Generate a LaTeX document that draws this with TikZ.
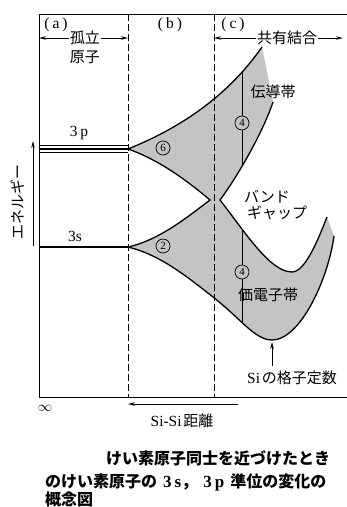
\documentclass[tikz,border=0pt]{standalone}
\usepackage{fontspec}
\setmainfont{Liberation Serif}
\newfontfamily\jp{Noto Sans CJK JP}
\usetikzlibrary{arrows.meta}
\definecolor{bandgray}{gray}{0.77}
\begin{document}
\begin{tikzpicture}[x=1pt,y=-1pt,
  frame/.style={line width=0.9pt},
  bandline/.style={line width=1.3pt},
  divider/.style={dash pattern=on 7pt off 3pt, line width=0.8pt},
  lbl/.style={font=\jp\fontsize{15}{15}\selectfont, inner sep=1pt},
  latin/.style={font=\fontsize{15.5}{15.5}\selectfont, inner sep=1pt},
  captxt/.style={font=\jp\bfseries\fontsize{16}{16}\selectfont, inner sep=0pt, anchor=west},
  circnum/.style={circle, draw, line width=0.7pt, inner sep=0pt, minimum size=14pt, fill=bandgray, font=\fontsize{11}{11}\selectfont},
  arr/.style={-{Stealth[length=7pt,width=3.5pt]}, line width=0.8pt}]
\useasboundingbox (0,0) rectangle (347,507);

% frame
\coordinate (TL) at (39,14);
\coordinate (TR) at (347,14);
\coordinate (BL) at (39,397);
\coordinate (BR) at (347,397);

% band geometry
\coordinate (P3p) at (128,149);
\coordinate (T1) at (262,47);
\coordinate (C1) at (273,102);
\coordinate (Xr) at (220,200);
\coordinate (Vmin) at (292,272);
\coordinate (T2) at (327,217);
\coordinate (C2) at (334,236);
\coordinate (Lmin) at (272,340);
\coordinate (Mid) at (213,297);
\coordinate (P3s) at (128,247);
\coordinate (Xl) at (210,200);

\fill[bandgray] (P3p) .. controls (175,130) and (225,100) .. (T1) -- (C1)
  .. controls (262,135) and (235,180) .. (Xr)
  .. controls (245,232) and (270,272) .. (Vmin)
  .. controls (305,272) and (318,240) .. (T2) -- (C2)
  .. controls (328,280) and (300,340) .. (Lmin)
  .. controls (255,340) and (240,318) .. (Mid)
  .. controls (185,275) and (160,255) .. (P3s)
  .. controls (160,240) and (190,215) .. (Xl)
  .. controls (190,183) and (160,160) .. (P3p) -- cycle;

\draw[frame] (TR) -- (TL) -- (BL) -- (BR);

% dividers
\coordinate (d1t) at (128,14);
\coordinate (d1b) at (128,397);
\coordinate (d2t) at (214,14);
\coordinate (d2b) at (214,397);
\draw[divider] (d1t) -- (d1b);
\draw[divider] (d2t) -- (d2b);

% band outlines
\draw[bandline] (P3p) .. controls (175,130) and (225,100) .. (T1);
\draw[bandline] (C1) .. controls (262,135) and (235,180) .. (Xr)
  .. controls (245,232) and (270,272) .. (Vmin)
  .. controls (305,272) and (318,240) .. (T2);
\draw[bandline] (C2) .. controls (328,280) and (300,340) .. (Lmin)
  .. controls (255,340) and (240,318) .. (Mid)
  .. controls (185,275) and (160,255) .. (P3s);
\draw[bandline] (P3s) .. controls (160,240) and (190,215) .. (Xl)
  .. controls (190,183) and (160,160) .. (P3p);

% region labels
\node[latin] (la) at (56,25) {(\hspace{3pt}a\hspace{3pt})};
\node[latin] (lb) at (170,25) {(\hspace{3pt}b\hspace{3pt})};
\node[latin] (lc) at (233,25) {(\hspace{3pt}c\hspace{3pt})};

\node[lbl] (iso) at (85,38) {孤立};
\node[lbl] (iso2) at (85,57) {原子};
\coordinate (aL) at (39,38);
\coordinate (aR) at (128,38);
\draw[arr] (iso) -- (aL);
\draw[arr] (iso) -- (aR);

\node[lbl] (cov) at (287,38) {共有結合};
\coordinate (cL) at (214,38);
\coordinate (cR) at (343,38);
\draw[arr] (cov) -- (cL);
\draw[arr] (cov) -- (cR);

% atomic levels
\coordinate (p1L) at (39,145.5); \coordinate (p1R) at (128,145.5);
\coordinate (p2L) at (39,149); \coordinate (p2R) at (128,149);
\coordinate (p3L) at (39,152.5); \coordinate (p3R) at (128,152.5);
\draw[line width=0.9pt] (p1L) -- (p1R);
\draw[line width=1.1pt] (p2L) -- (p2R);
\draw[line width=0.9pt] (p3L) -- (p3R);
\node[latin] (l3p) at (79,133) {3\hspace{3pt}p};

\coordinate (sL) at (39,247);
\coordinate (sR) at (128,247);
\draw[line width=1.1pt] (sL) -- (sR);
\node[latin] (l3s) at (75,236) {3s};

% energy axis
\coordinate (eb) at (33,246);
\coordinate (et) at (33,141);
\draw[arr] (eb) -- (et);
\node[lbl, rotate=90] (en) at (18,202) {エネルギー};

% lattice constant lines and degeneracy marks
\coordinate (va) at (242,72);
\coordinate (vb) at (242,166);
\coordinate (vc) at (242,230);
\coordinate (vd) at (242,322);
\node[circnum] (c4a) at (242,123) {4};
\node[circnum] (c4b) at (242,272) {4};
\draw[line width=0.7pt] (va) -- (c4a);
\draw[line width=0.7pt] (c4a) -- (vb);
\draw[line width=0.7pt] (vc) -- (c4b);
\draw[line width=0.7pt] (c4b) -- (vd);
\node[circnum] (c6) at (163,148) {6};
\node[circnum] (c2) at (163,246) {2};

% band labels
\node[lbl] (cb) at (273,92) {伝導帯};
\node[lbl, anchor=west] (bg1) at (243,197) {バンド};
\node[lbl, anchor=west] (bg2) at (246,213) {ギャップ};
\node[lbl] (vb2) at (268,295) {価電子帯};

% Si lattice constant
\node[inner sep=1pt] (si) at (292,378) {{\fontsize{15.5}{15.5}\selectfont Si}\,{\jp\fontsize{15}{15}\selectfont の格子定数}};
\coordinate (sab) at (272,366);
\coordinate (sat) at (272,342);
\draw[arr] (sab) -- (sat);

% distance axis
\node[inner sep=1pt, font=\fontsize{14}{14}\selectfont] (inf) at (45,408) {$\infty$};
\coordinate (dR) at (238,404);
\coordinate (dL) at (128,404);
\draw[arr] (dR) -- (dL);
\node[inner sep=1pt] (dist) at (182,421) {{\fontsize{15.5}{15.5}\selectfont Si-Si}\,{\jp\fontsize{15}{15}\selectfont 距離}};

% caption
\node[captxt] (cap1) at (106,458) {けい素原子同士を近づけたとき};
\node[captxt] (cap2) at (45,482) {のけい素原子の{\rmfamily\bfseries\fontsize{17}{17}\selectfont\hspace{6pt}3\hspace{3pt}s{\jp ，}\hspace{5pt}3\hspace{3pt}p\hspace{6pt}}準位の変化の};
\node[captxt] (cap3) at (45,499) {概念図};
\end{tikzpicture}
\end{document}
